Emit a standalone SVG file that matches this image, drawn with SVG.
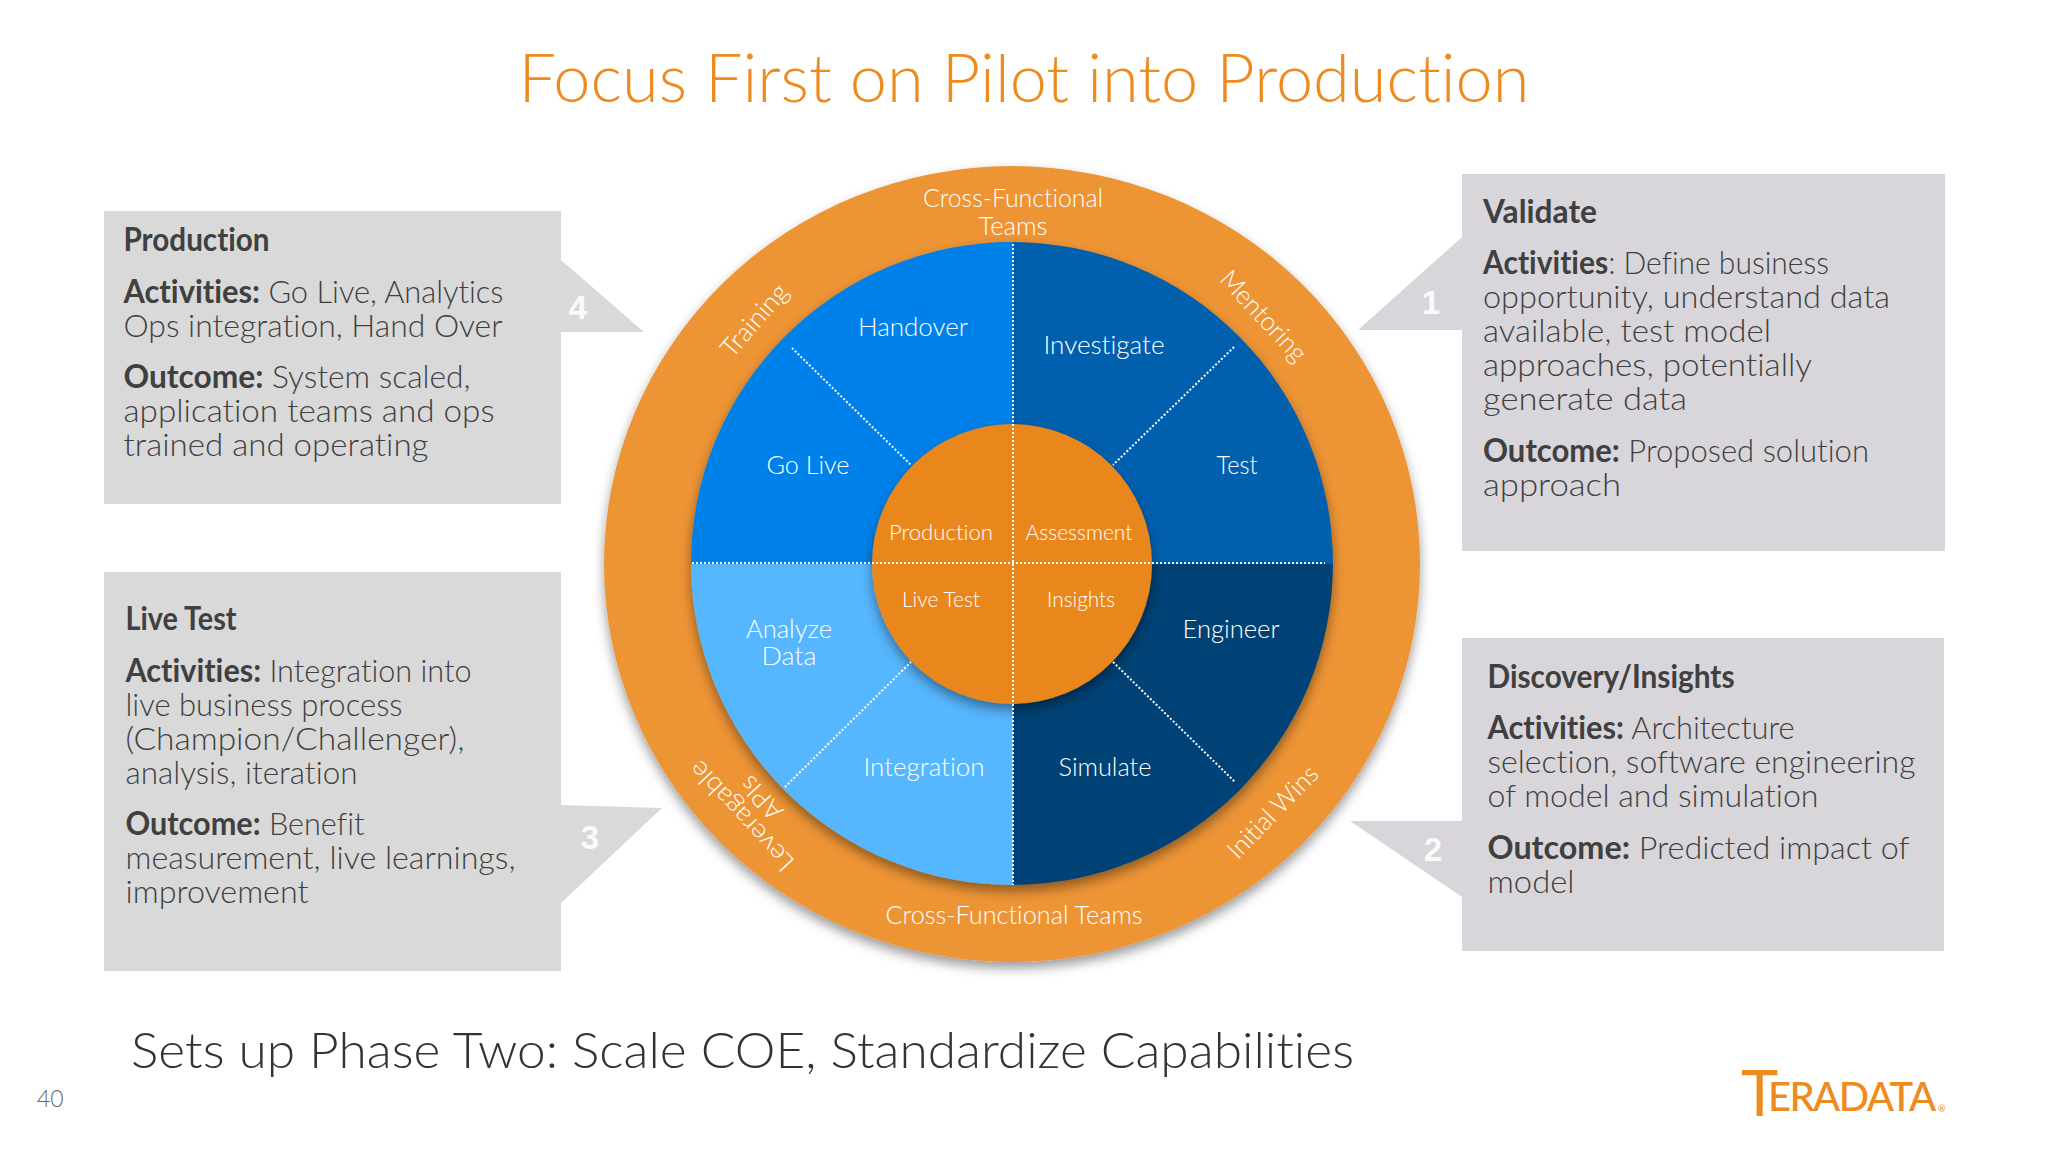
<svg xmlns="http://www.w3.org/2000/svg" width="2048" height="1152" viewBox="0 0 2048 1152">
<defs>
<filter id="sh" x="-10%" y="-10%" width="120%" height="120%"><feDropShadow dx="0" dy="6" stdDeviation="6" flood-color="#000" flood-opacity=".4"/></filter>
</defs>
<style>
text{font-family:"Lato","Liberation Sans",sans-serif;fill:#404040;font-size:32px;font-weight:300;font-variant-ligatures:none}
.b{font-weight:700}
.w{fill:#fff;font-size:26px;text-anchor:middle}
.s{fill:#fff;font-size:22px;text-anchor:middle}
.n{fill:#fff;fill-opacity:.9;font-size:33px;font-weight:700;font-family:"Liberation Sans",sans-serif;text-anchor:middle}
.bl{fill:#d9d9d9}
.br{fill:#d8d6da}
.d{stroke:#fff;stroke-width:2;stroke-dasharray:2 2;fill:none}
</style>
<rect width="2048" height="1152" fill="#fff"/>
<text x="1024" y="102" text-anchor="middle" textLength="1011" lengthAdjust="spacingAndGlyphs" style="font-size:67px;fill:#ed8b1e">Focus First on Pilot into Production</text>
<g id="production"><path class="bl" d="M104 211H561V260L644 332H561V504H104Z"/><text class="n" x="578" y="319">4</text>
<text x="123.500" y="251" class="b" textLength="146" lengthAdjust="spacingAndGlyphs">Production</text>
<text x="123.500" y="303" textLength="380" lengthAdjust="spacingAndGlyphs"><tspan class="b">Activities:</tspan> Go Live, Analytics</text>
<text x="123.500" y="337" textLength="379" lengthAdjust="spacingAndGlyphs">Ops integration, Hand Over</text>
<text x="123.500" y="388" textLength="347" lengthAdjust="spacingAndGlyphs"><tspan class="b">Outcome:</tspan> System scaled,</text>
<text x="123.500" y="422" textLength="371" lengthAdjust="spacingAndGlyphs">application teams and ops</text>
<text x="123.500" y="456" textLength="305" lengthAdjust="spacingAndGlyphs">trained and operating</text></g>
<g id="livetest"><path class="bl" d="M104 572H561V805L662 808L561 903V971H104Z"/><text class="n" x="590" y="849">3</text>
<text x="125.500" y="630" class="b" textLength="111" lengthAdjust="spacingAndGlyphs">Live Test</text>
<text x="125.500" y="682" textLength="346" lengthAdjust="spacingAndGlyphs"><tspan class="b">Activities:</tspan> Integration into</text>
<text x="125.500" y="716" textLength="277" lengthAdjust="spacingAndGlyphs">live business process</text>
<text x="125.500" y="750" textLength="339" lengthAdjust="spacingAndGlyphs">(Champion/Challenger),</text>
<text x="125.500" y="784" textLength="232" lengthAdjust="spacingAndGlyphs">analysis, iteration</text>
<text x="125.500" y="835" textLength="239" lengthAdjust="spacingAndGlyphs"><tspan class="b">Outcome:</tspan> Benefit</text>
<text x="125.500" y="869" textLength="390" lengthAdjust="spacingAndGlyphs">measurement, live learnings,</text>
<text x="125.500" y="903" textLength="183" lengthAdjust="spacingAndGlyphs">improvement</text></g>
<g id="validate"><path class="br" d="M1462 174H1945V551H1462V330H1358L1462 237Z"/><text class="n" x="1431" y="314">1</text>
<text x="1483" y="223" class="b" textLength="114" lengthAdjust="spacingAndGlyphs">Validate</text>
<text x="1483" y="274" textLength="346" lengthAdjust="spacingAndGlyphs"><tspan class="b">Activities</tspan>: Define business</text>
<text x="1483" y="308" textLength="407" lengthAdjust="spacingAndGlyphs">opportunity, understand data</text>
<text x="1483" y="342" textLength="288" lengthAdjust="spacingAndGlyphs">available, test model</text>
<text x="1483" y="376" textLength="329" lengthAdjust="spacingAndGlyphs">approaches, potentially</text>
<text x="1483" y="410" textLength="204" lengthAdjust="spacingAndGlyphs">generate data</text>
<text x="1483" y="462" textLength="386" lengthAdjust="spacingAndGlyphs"><tspan class="b">Outcome:</tspan> Proposed solution</text>
<text x="1483" y="496" textLength="138" lengthAdjust="spacingAndGlyphs">approach</text></g>
<g id="discovery"><path class="br" d="M1462 638H1944V951H1462V897L1350 821H1462Z"/><text class="n" x="1433" y="861">2</text>
<text x="1487.500" y="688" class="b" textLength="247" lengthAdjust="spacingAndGlyphs">Discovery/Insights</text>
<text x="1487.500" y="739" textLength="307" lengthAdjust="spacingAndGlyphs"><tspan class="b">Activities:</tspan> Architecture</text>
<text x="1487.500" y="773" textLength="428" lengthAdjust="spacingAndGlyphs">selection, software engineering</text>
<text x="1487.500" y="807" textLength="331" lengthAdjust="spacingAndGlyphs">of model and simulation</text>
<text x="1487.500" y="859" textLength="422" lengthAdjust="spacingAndGlyphs"><tspan class="b">Outcome:</tspan> Predicted impact of</text>
<text x="1487.500" y="893" textLength="87" lengthAdjust="spacingAndGlyphs">model</text></g>
<g id="wheel">
<ellipse cx="1012" cy="564" rx="408" ry="398" fill="#ed9434" filter="url(#sh)"/>
<g filter="url(#sh)">
<path d="M1013 242V564H691A321 322 0 0 1 1013 242Z" fill="#0681ea"/>
<path d="M1013 242A321 322 0 0 1 1333 564H1013Z" fill="#0561ae"/>
<path d="M1013 564H1333A321 322 0 0 1 1013 885Z" fill="#044375"/>
<path d="M1013 564V885A321 322 0 0 1 691 564Z" fill="#56b6fe"/>
</g>
<circle cx="1012" cy="564" r="140" fill="#ea871e" filter="url(#sh)"/>
</g>
<g id="connectors">
<path class="d" d="M1013 244V885M692 563H1325M792 348L911 465M1234 347L1113 465M785 787L911 662M1113 662L1235 782"/>
</g>
<g id="labels">
<text class="w" x="1013" y="207" textLength="180" lengthAdjust="spacingAndGlyphs">Cross-Functional</text><text class="w" x="1013" y="235" textLength="69" lengthAdjust="spacingAndGlyphs">Teams</text>
<text class="w" x="913" y="336" textLength="110" lengthAdjust="spacingAndGlyphs">Handover</text>
<text class="w" x="1104" y="354" textLength="121" lengthAdjust="spacingAndGlyphs">Investigate</text>
<text class="w" x="808" y="474" textLength="83" lengthAdjust="spacingAndGlyphs">Go Live</text>
<text class="w" x="1237" y="474" textLength="41" lengthAdjust="spacingAndGlyphs">Test</text>
<text class="w" x="1231" y="638" textLength="97" lengthAdjust="spacingAndGlyphs">Engineer</text>
<text class="w" x="789" y="638" textLength="86" lengthAdjust="spacingAndGlyphs">Analyze</text><text class="w" x="789" y="665" textLength="55" lengthAdjust="spacingAndGlyphs">Data</text>
<text class="w" x="924" y="776" textLength="121" lengthAdjust="spacingAndGlyphs">Integration</text>
<text class="w" x="1105" y="776" textLength="93" lengthAdjust="spacingAndGlyphs">Simulate</text>
<text class="s" x="941" y="540" textLength="104" lengthAdjust="spacingAndGlyphs">Production</text>
<text class="s" x="1079" y="540" textLength="107" lengthAdjust="spacingAndGlyphs">Assessment</text>
<text class="s" x="941" y="607" textLength="78" lengthAdjust="spacingAndGlyphs">Live Test</text>
<text class="s" x="1081" y="607" textLength="68" lengthAdjust="spacingAndGlyphs">Insights</text>
<text class="w" x="1014" y="924" textLength="257" lengthAdjust="spacingAndGlyphs">Cross-Functional Teams</text>
<text class="w" transform="translate(761 326) rotate(-49)" textLength="88" lengthAdjust="spacingAndGlyphs">Training</text>
<text class="w" transform="translate(1257 322) rotate(47)" textLength="114" lengthAdjust="spacingAndGlyphs">Mentoring</text>
<text class="w" transform="translate(1279 818) rotate(-46)" textLength="118" lengthAdjust="spacingAndGlyphs">Initial Wins</text>
<text class="w" transform="translate(748 810) rotate(-133)" textLength="140" lengthAdjust="spacingAndGlyphs">Leveragable</text>
<text class="w" transform="translate(768 792) rotate(-133)" textLength="50" lengthAdjust="spacingAndGlyphs">APIs</text>
</g>
<text x="131" y="1068" textLength="1223" lengthAdjust="spacingAndGlyphs" style="font-size:49px;fill:#333">Sets up Phase Two: Scale COE, Standardize Capabilities</text>
<text x="37" y="1107" style="font-size:23px;fill:#666">40</text>
<text id="logo" style="fill:#ed8b1e;font-weight:400"><tspan x="1741" y="1116" style="font-size:63px;font-weight:400">T</tspan><tspan x="1768" y="1111" style="font-size:40px;letter-spacing:-1.6px;font-weight:500">ERADATA</tspan><tspan x="1938" y="1112" style="font-size:9px">®</tspan></text>
</svg>
